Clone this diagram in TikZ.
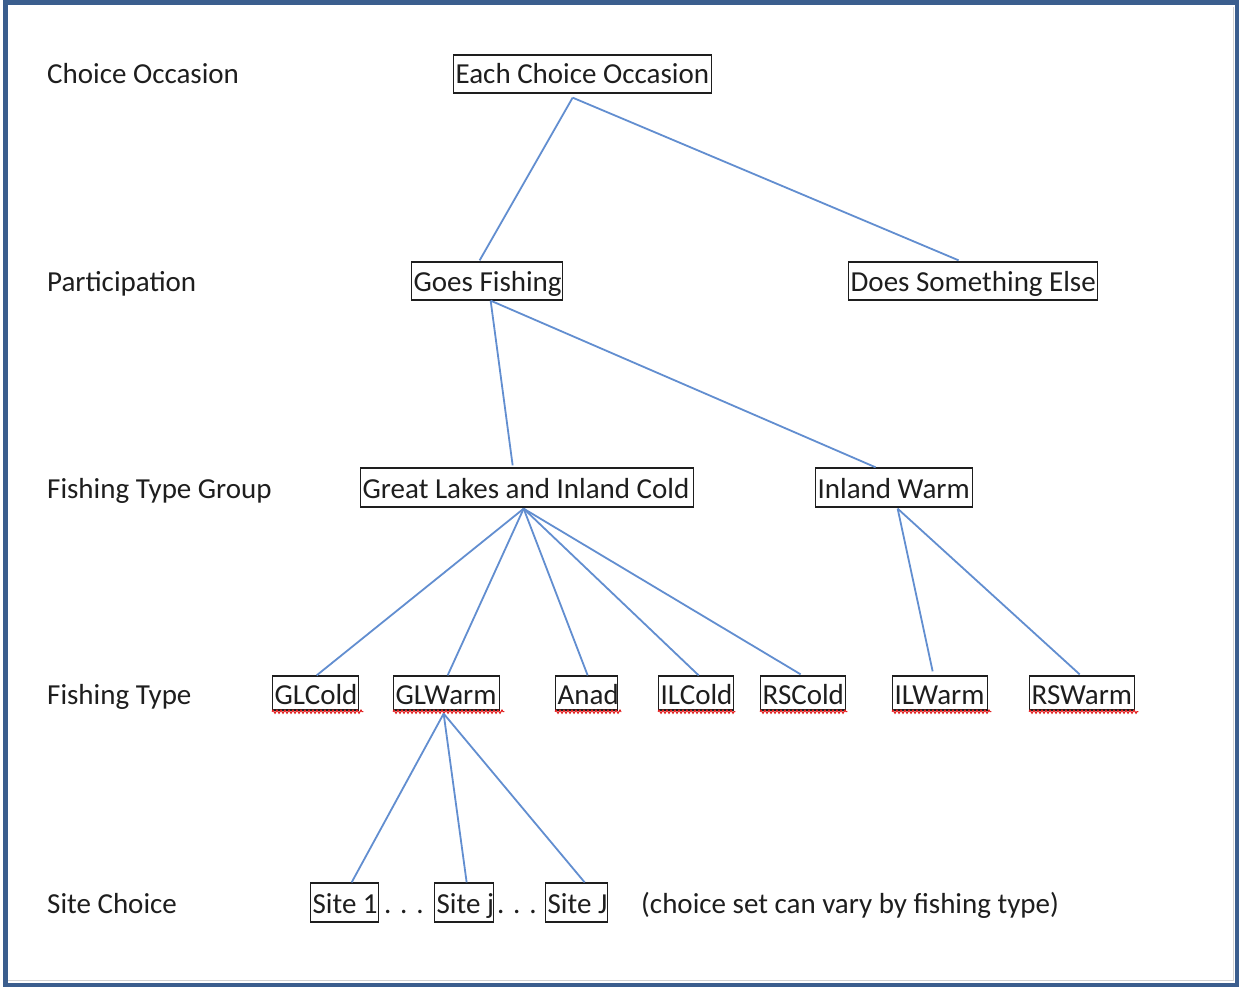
\documentclass[tikz,border=0pt]{standalone}
\usepackage{fontspec}
\setmainfont{Carlito}
\usetikzlibrary{decorations.pathmorphing}
\definecolor{frameblue}{RGB}{59,94,142}
\definecolor{linkblue}{RGB}{98,142,208}
\definecolor{txt}{RGB}{30,30,30}
\definecolor{squigred}{RGB}{226,30,30}
\tikzset{
  tbox/.style={draw=txt, line width=1.3pt, inner sep=0pt, anchor=base west, text=txt, font=\fontsize{29}{35}\selectfont},
  lbl/.style={inner sep=0pt, anchor=base west, text=txt, font=\fontsize{29}{35}\selectfont},
  conn/.style={draw=linkblue, line width=1.8pt},
  squig/.style={draw=squigred, line width=1.1pt, decorate, decoration={zigzag, segment length=4pt, amplitude=1.6pt}}
}
% name, x, baseline, width, height, depth, text
\newcommand{\tbx}[7]{\node[tbox] (#1) at (#2,#3) {\rule[-#6pt]{0pt}{#5pt}\makebox[#4pt][l]{\hspace{2pt}#7}};}
\begin{document}
\begin{tikzpicture}[x=1pt,y=-1pt]
\useasboundingbox (0,0) rectangle (1239,987);
\fill[white] (0,0) rectangle (1239,987);
% frame
\draw[gray!35, line width=1pt] (8,980.5) -- (1233.5,980.5) -- (1233.5,7);
\draw[frameblue, line width=5pt] (5.5,3) rectangle (1237.5,985);
% left labels
\node[lbl] (l1) at (47,84) {Choice Occasion};
\node[lbl] (l2) at (47,291) {Participation};
\node[lbl] (l3) at (47,498) {Fishing Type Group};
\node[lbl] (l4) at (47,704) {Fishing Type};
\node[lbl] (l5) at (47,913) {Site Choice};
% boxes
\tbx{eco}{453}{84}{258}{38}{9}{Each Choice Occasion}
\tbx{gf}{411}{291}{151}{38}{9}{Goes Fishing}
\tbx{dse}{848}{291}{249}{38}{9}{Does Something Else}
\tbx{glic}{360}{498}{333}{39}{9}{Great Lakes and Inland Cold}
\tbx{iw}{815}{498}{157}{39}{9}{Inland Warm}
\tbx{glcold}{272}{704}{86}{34}{6}{GLCold}
\tbx{glwarm}{393}{704}{106}{34}{6}{GLWarm}
\tbx{anad}{555}{704}{62}{34}{6}{Anad}
\tbx{ilcold}{658}{704}{75}{34}{6}{ILCold}
\tbx{rscold}{760}{704}{85}{34}{6}{RSCold}
\tbx{ilwarm}{892}{704}{95}{34}{6}{ILWarm}
\tbx{rswarm}{1029}{704}{105}{34}{6}{RSWarm}
\tbx{s1}{310}{913}{68}{39}{9}{Site 1}
\tbx{sj}{434}{913}{59}{39}{9}{Site j}
\tbx{sJ}{545}{913}{62}{39}{9}{Site J}
\node[lbl] (d1) at (384,913) {. . .};
\node[lbl] (d2) at (497,913) {. . .};
\node[lbl] (note) at (641,913) {(choice set can vary by fishing type)};
% spelling squiggles
\foreach \n/\w in {glcold/4, glwarm/4, anad/3, ilcold/1, rscold/1, ilwarm/3, rswarm/3}{
  \draw[squig] ([yshift=-1pt]\n.south west) -- ([xshift=\w pt,yshift=-1pt]\n.south east);
}
% connectors
\draw[conn] ([xshift=-10pt,yshift=-4pt]eco.south) -- ([xshift=-7.5pt,yshift=1pt]gf.north);
\draw[conn] ([xshift=-10pt,yshift=-4pt]eco.south) -- ([xshift=-14.5pt,yshift=1pt]dse.north);
\draw[conn] ([xshift=3.5pt]gf.south) -- ([xshift=-14.5pt,yshift=2pt]glic.north);
\draw[conn] ([xshift=3.5pt]gf.south) -- ([xshift=-18.5pt]iw.north);
\draw[conn] ([xshift=-3.5pt,yshift=-1pt]glic.south) -- ([xshift=1pt]glcold.north);
\draw[conn] ([xshift=-3.5pt,yshift=-1pt]glic.south) -- ([xshift=1pt]glwarm.north);
\draw[conn] ([xshift=-3.5pt,yshift=-1pt]glic.south) -- ([xshift=1pt]anad.north);
\draw[conn] ([xshift=-3.5pt,yshift=-1pt]glic.south) -- ([xshift=2.5pt]ilcold.north);
\draw[conn] ([xshift=-3.5pt,yshift=-1pt]glic.south) -- ([xshift=-2.5pt,yshift=1pt]rscold.north);
\draw[conn] ([xshift=3.5pt,yshift=-1pt]iw.south) -- ([xshift=-7.5pt,yshift=4pt]ilwarm.north);
\draw[conn] ([xshift=3.5pt,yshift=-1pt]iw.south) -- ([xshift=-2.5pt,yshift=1pt]rswarm.north);
\draw[conn] ([xshift=-3pt,yshift=-3pt]glwarm.south) -- ([xshift=7pt]s1.north);
\draw[conn] ([xshift=-3pt,yshift=-3pt]glwarm.south) -- ([xshift=2.5pt]sj.north);
\draw[conn] ([xshift=-3pt,yshift=-3pt]glwarm.south) -- ([xshift=8pt]sJ.north);
\end{tikzpicture}
\end{document}
